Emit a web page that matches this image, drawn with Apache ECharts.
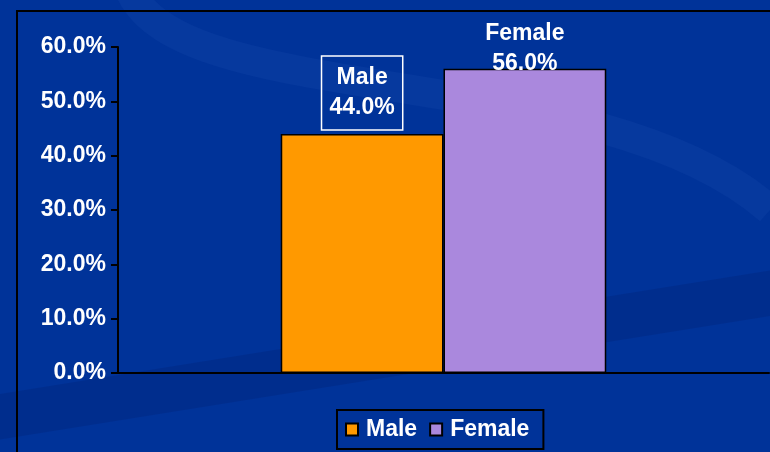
<!DOCTYPE html>
<html>
<head>
    <meta charset="utf-8">
    <title>Gender</title>
    <script src="https://cdn.jsdelivr.net/npm/echarts@6/dist/echarts.min.js"></script>
    <style>
      html, body { margin: 0; padding: 0; background: #003399; }
      #main { width: 770px; height: 452px; }
    </style>
</head>
<body>
    <div id="main"></div>
    <script type="text/javascript">

// data
let categories = ['Gender']
let seriesNames = ['Male', 'Female']
let seriesValues = [44.0, 56.0]
let seriesColors = ['#ff9900', '#aa88dd']
let yTicks = { min: 0, max: 60, interval: 10 }

let font = '"Liberation Sans", Arial, sans-serif'

let labelFor = function (i) {
    let base = {
        show: true,
        position: 'top',
        color: '#fff',
        fontFamily: font,
        fontWeight: 'bold',
        fontSize: 23,
        lineHeight: 30,
        align: 'center',
        formatter: p => p.seriesName + '\n' + p.value.toFixed(1) + '%'
    }
    if (i === 0) {
        // Male label sits in a white box
        base.borderColor = '#fff'
        base.borderWidth = 1.5
        base.padding = [7, 8, 7, 8]
        base.distance = 4
    } else {
        base.distance = -10
    }
    return base
}

let option = {
    backgroundColor: '#003399',
    animation: false,
    graphic: [
        // faint background swooshes
        { type: 'bezierCurve', shape: { x1: 130, y1: -10, x2: 770, y2: 210, cpx1: 180, cpy1: 110, cpx2: 600, cpy2: 60 },
          silent: true, z: -10, style: { fill: 'none', stroke: 'rgba(110,150,230,0.06)', lineWidth: 30 } },
        { type: 'line', shape: { x1: -20, y1: 420, x2: 790, y2: 290 },
          silent: true, z: -10, style: { stroke: 'rgba(0,20,90,0.18)', lineWidth: 45 } },
        // chart area border
        { type: 'rect', shape: { x: 17, y: 11, width: 800, height: 500 }, silent: true, z: -5,
          style: { fill: 'none', stroke: '#000', lineWidth: 2 } }
    ],
    grid: { left: 118, top: 47, right: 1, bottom: 79 },
    legend: {
        data: seriesNames,
        left: 337,
        top: 410,
        padding: [8, 14, 8, 8],
        borderColor: '#000',
        borderWidth: 2,
        itemWidth: 12,
        itemHeight: 12,
        itemGap: 12,
        icon: 'rect',
        textStyle: { color: '#fff', fontFamily: font, fontWeight: 'bold', fontSize: 23, padding: [0, 0, 0, 3] }
    },
    xAxis: {
        type: 'category',
        data: categories,
        axisLine: { lineStyle: { color: '#000', width: 2 } },
        axisTick: { show: false },
        axisLabel: { show: false }
    },
    yAxis: {
        type: 'value',
        min: yTicks.min,
        max: yTicks.max,
        interval: yTicks.interval,
        axisLine: { show: true, lineStyle: { color: '#000', width: 2 } },
        axisTick: { show: true, length: 7, lineStyle: { color: '#000', width: 2 } },
        splitLine: { show: false },
        axisLabel: {
            color: '#fff', fontFamily: font, fontWeight: 'bold', fontSize: 23, margin: 12,
            formatter: v => v.toFixed(1) + '%'
        }
    },
    series: seriesNames.map((name, i) => ({
        name: name,
        type: 'bar',
        data: [seriesValues[i]],
        barGap: '0%',
        barCategoryGap: '50%',
        itemStyle: { color: seriesColors[i], borderColor: '#000', borderWidth: 1.5 },
        label: labelFor(i)
    }))
}

echarts.init(document.getElementById('main')).setOption(option)

    </script>
</body>
</html>
